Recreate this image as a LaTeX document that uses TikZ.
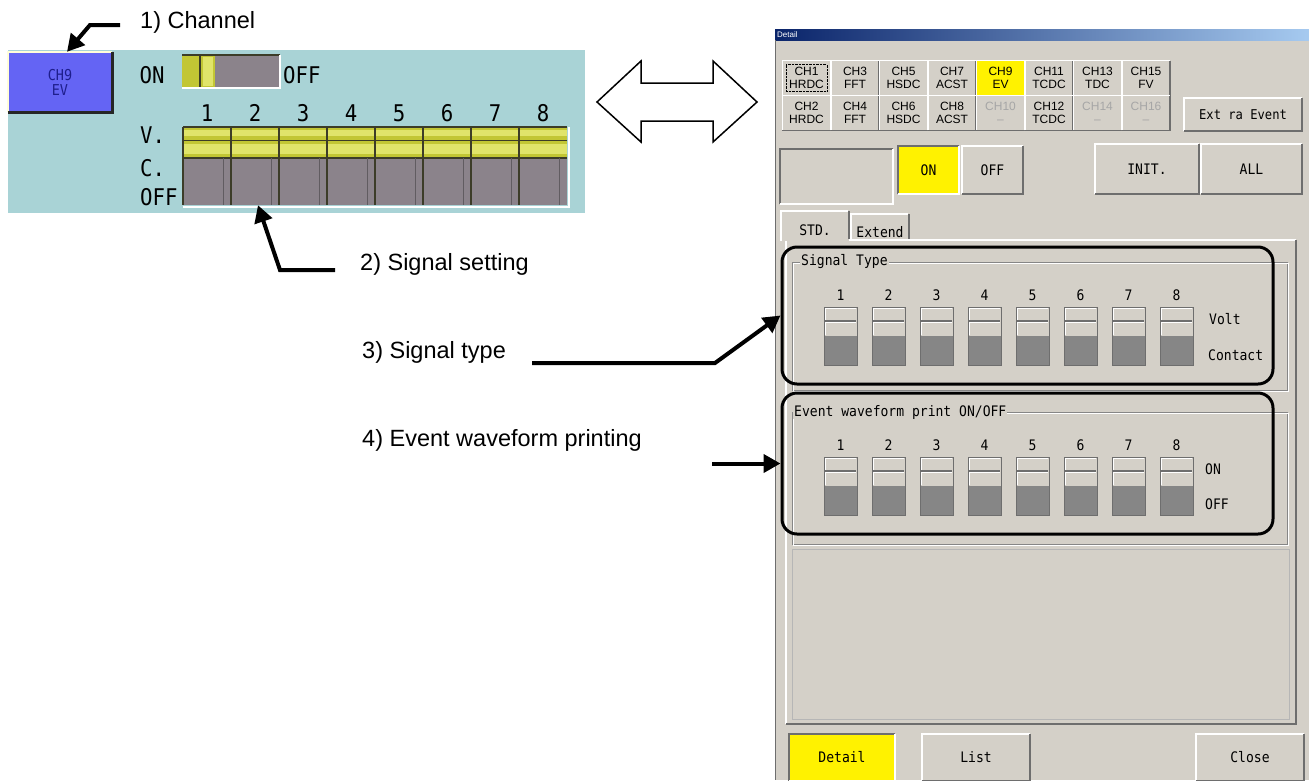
\documentclass[tikz,border=0pt]{standalone}
\usepackage{fontspec}
\setmainfont{Liberation Sans}
\newfontfamily\monoui{DejaVu Sans Mono}[FakeStretch=0.9]
\usetikzlibrary{arrows.meta,positioning,calc}

\definecolor{lblue}{HTML}{A9D3D6}
\definecolor{lgray}{HTML}{8B838B}
\definecolor{ldark}{HTML}{3C3C28}
\definecolor{lyel}{HTML}{C2C634}
\definecolor{lyelhi}{HTML}{E0E46A}
\definecolor{chblue}{HTML}{6464F4}
\definecolor{chtext}{HTML}{1E1E8C}
\definecolor{winbg}{HTML}{D4D0C8}
\definecolor{swdark}{HTML}{868686}
\definecolor{btndark}{HTML}{6E6E6E}
\definecolor{navy}{HTML}{0A246A}
\definecolor{skyb}{HTML}{A6CAF0}

% 3d edges of the dialog buttons
\newcommand{\raisedbtn}[1]{%
	\draw[white,line width=1.5pt] (#1.south west) -- (#1.north west) -- (#1.north east);
	\draw[btndark,line width=1.5pt] (#1.north east) -- (#1.south east) -- (#1.south west);}
\newcommand{\sunkbtn}[1]{%
	\draw[btndark,line width=1.5pt] (#1.south west) -- (#1.north west) -- (#1.north east);
	\draw[white,line width=1.5pt] (#1.north east) -- (#1.south east) -- (#1.south west);}

\begin{document}
\begin{tikzpicture}[x=1pt,y=-1pt,
	lbl/.style={font=\fontsize{23.5}{26}\selectfont,anchor=west,inner sep=0pt},
	callout/.style={line width=4pt,-{Triangle[length=17pt,width=18pt]}},
	ltxt/.style={font=\monoui\fontsize{23}{24}\selectfont,inner sep=0pt},
	rtxt/.style={font=\monoui\fontsize{14.5}{16}\selectfont,inner sep=0pt},
	chbtn/.style={rectangle,fill=#1,minimum width=48pt,minimum height=34.5pt,inner sep=0pt,align=center,font=\fontsize{12}{12.5}\selectfont},
	chbtn/.default=winbg,
	btn/.style={rectangle,fill=#1,inner sep=0pt,font=\monoui\fontsize{14.5}{16}\selectfont},
	btn/.default=winbg,
	hilite/.style={draw=black,line width=3pt,rounded corners=15pt,minimum width=491pt,inner sep=0pt}]
	\useasboundingbox (0,0) rectangle (1309,780);

	% left: channel panel
	\fill[lblue] (8,50) rectangle (585,213);
	\node[rectangle,fill=chblue,minimum width=104pt,minimum height=60pt,inner sep=0pt,
		align=center,text=chtext,font=\monoui\fontsize{15}{15}\selectfont] (ch9) at (60,82) {CH9\\EV};
	\draw[white!85!yellow,line width=2pt] (ch9.south west) -- (ch9.north west) -- (ch9.north east);
	\draw[black!85,line width=3pt] (ch9.north east) -- (ch9.south east) -- (ch9.south west);
	\node[ltxt] (lon) at (152,75) {ON};
	\fill[lgray] (182,55) rectangle (280,88);
	\fill[lyel] (182,55) rectangle (215,88);
	\fill[lyelhi] (203,57) rectangle (213,86);
	\draw[ldark,line width=1.5pt] (200,55) -- (200,88);
	\draw[ldark,line width=1.5pt] (182,55) -- (280,55);
	\draw[white,line width=1.5pt] (182,88) -- (280,88) -- (280,55);
	\node[ltxt,anchor=west] (loff) at (283,75) {OFF};
	\node[ltxt,anchor=west] (lv) at (140,135) {V.};
	\node[ltxt,anchor=west] (lc) at (140,168) {C.};
	\node[ltxt,anchor=west] (loffrow) at (140,197) {OFF};
	\foreach \i in {1,...,8} {
		\pgfmathsetmacro{\xa}{183+48*(\i-1)}
		\fill[lgray] (\xa,127) rectangle ++(48,78);
		\fill[lyel] (\xa,127) rectangle ++(48,31);
		\fill[lyelhi] (\xa,130) rectangle ++(48,6);
		\fill[lyelhi] (\xa,144) rectangle ++(48,10);
		\draw[ldark,line width=1.5pt] (\xa,127) -- ++(48,0) (\xa,140.5) -- ++(48,0) (\xa,158) -- ++(48,0);
		\draw[ldark,line width=1.5pt] (\xa,127) -- ++(0,78);
		\draw[lgray!70!black] (\xa+40,158) -- ++(0,47);
		\node[ltxt] (lnum\i) at (\xa+24,113) {\i};
		\node[inner sep=0pt,minimum width=48pt,minimum height=78pt] (lsw\i) at (\xa+24,166) {};
	}
	\draw[white,line width=2pt] (183,207) -- (569,207) -- (569,127);

	% double arrow between the two views
	\draw[fill=white,line width=1.5pt,line join=miter] (597,102) -- (641,61) -- (641,83) -- (713,83) -- (713,61)
		-- (757,102) -- (713,142) -- (713,121) -- (641,121) -- (641,142) -- cycle;

	% right: detail dialog
	\fill[winbg] (775,40) rectangle (1309,780);
	\shade[left color=navy,right color=skyb] (775,29) rectangle (1309,40);
	\node[anchor=west,inner sep=0pt,text=white,font=\fontsize{8}{8}\selectfont] (title) at (777,34.5) {Detail};
	\draw[btndark] (775.5,40) -- (775.5,780);

	\foreach \ta/\tb/\fc [count=\i from 0] in {CH1/HRDC/winbg,CH3/FFT/winbg,CH5/HSDC/winbg,CH7/ACST/winbg,
			CH9/EV/yellow,CH11/TCDC/winbg,CH13/TDC/winbg,CH15/FV/winbg} {
		\node[chbtn=\fc] (b\ta) at (806.5+48.5*\i,78) {\ta\\\tb};
		\raisedbtn{b\ta}
	}
	\foreach \ta/\tb/\tc [count=\i from 0] in {CH2/HRDC/black,CH4/FFT/black,CH6/HSDC/black,CH8/ACST/black,
			CH10/--/black!35,CH12/TCDC/black,CH14/--/black!35,CH16/--/black!35} {
		\node[chbtn,text=\tc] (b\ta) at (806.5+48.5*\i,113) {\ta\\\tb};
		\raisedbtn{b\ta}
	}
	\draw[densely dotted] ([xshift=4pt,yshift=-4pt]bCH1.north west) rectangle ([xshift=-4pt,yshift=4pt]bCH1.south east);
	\node[btn,minimum width=118pt,minimum height=33pt,font=\monoui\fontsize{13.5}{15}\selectfont] (extra) at (1243,114.5) {Ext ra Event};
	\raisedbtn{extra}

	\node[btn,minimum width=113pt,minimum height=55pt] (blank) at (836.5,176.5) {};
	\sunkbtn{blank}
	\node[btn=yellow,minimum width=61pt,minimum height=48pt] (on) at (928.5,170) {ON};
	\sunkbtn{on}
	\node[btn,minimum width=61pt,minimum height=48pt] (off) at (992.5,170) {OFF};
	\raisedbtn{off}
	\node[btn,minimum width=104pt,minimum height=50pt] (init) at (1147,169) {INIT.};
	\raisedbtn{init}
	\node[btn,minimum width=101pt,minimum height=50pt] (all) at (1251.5,169) {ALL};
	\raisedbtn{all}

	% tabs and tab page
	\draw[white,line width=1.5pt] (786,724) -- (786,240) -- (1296,240);
	\draw[btndark,line width=1.5pt] (1296,240) -- (1296,724) -- (786,724);
	\fill[winbg] (781,211) rectangle (849,241);
	\draw[white,line width=1.5pt] (781,241) -- (781,211) -- (848,211);
	\draw[btndark,line width=1.5pt] (849,211) -- (849,239);
	\draw[white,line width=1.5pt] (851,239) -- (851,214) -- (908,214);
	\draw[btndark,line width=1.5pt] (909,214) -- (909,239);
	\node[rtxt] (std) at (815,230) {STD.};
	\node[rtxt] (extend) at (880,232) {Extend};

	% group boxes
	\foreach \ya/\yb in {262/390,412/544} {
		\draw[swdark] (792,\ya) rectangle (1287,\yb);
		\draw[white] (793,\ya+1) rectangle (1288,\yb+1);
	}
	\draw[swdark!60] (792,549) rectangle (1289,719);
	\node[rtxt,anchor=west,fill=winbg,inner xsep=1pt] (sigtitle) at (800,262) {Signal Type};
	\node[rtxt,anchor=west,fill=winbg,inner xsep=1pt] (evtitle) at (793,412) {Event waveform print ON/OFF};

	\foreach \yy/\gp in {307/st,457/ev} {
		\foreach \i in {1,...,8} {
			\pgfmathsetmacro{\xa}{824+48*(\i-1)}
			\fill[swdark] (\xa,\yy+29) rectangle ++(33,29);
			\draw[btndark] (\xa,\yy) rectangle ++(33,58);
			\draw[white] (\xa+1,\yy+1) -- ++(31,0) (\xa+1,\yy+1) -- ++(0,27);
			\draw[btndark,line width=1.2pt] (\xa+1,\yy+14) -- ++(31,0);
			\draw[white] (\xa+1,\yy+15.5) -- ++(31,0);
			\node[rtxt] (\gp num\i) at (\xa+16.5,\yy-12) {\i};
		}
	}
	\node[rtxt,anchor=west] (volt) at (1209,319) {Volt};
	\node[rtxt,anchor=west] (contact) at (1208,355) {Contact};
	\node[rtxt,anchor=west] (evon) at (1205,469) {ON};
	\node[rtxt,anchor=west] (evoff) at (1205,504) {OFF};

	% bottom buttons
	\node[btn=yellow,minimum width=106pt,minimum height=47pt] (detail) at (842,757.5) {Detail};
	\sunkbtn{detail}
	\node[btn,minimum width=108pt,minimum height=47pt] (list) at (976,757.5) {List};
	\raisedbtn{list}
	\node[btn,minimum width=108pt,minimum height=47pt] (close) at (1250,757.5) {Close};
	\raisedbtn{close}

	% highlight frames
	\node[hilite,minimum height=137pt] (sigbox) at (1027.5,315.5) {};
	\node[hilite,minimum height=141pt] (evbox) at (1027.5,463.5) {};

	% call-outs
	\node[lbl] (lab1) at (140,22) {1) Channel};
	\node[lbl] (lab2) at (360,264) {2) Signal setting};
	\node[lbl] (lab3) at (362,352) {3) Signal type};
	\node[lbl] (lab4) at (362,440) {4) Event waveform printing};
	\coordinate (start1) at (120,25);
	\coordinate (bend1) at (90,25);
	\coordinate (start2) at (335,270);
	\coordinate (bend2) at (280,270);
	\coordinate (start3) at (532,363);
	\coordinate (bend3) at (715,363);
	\coordinate (start4) at (712,463.5);
	\draw[callout] (start1) -- (bend1) -- ([xshift=7pt]ch9.north);
	\draw[callout] (start2) -- (bend2) -- ([xshift=3pt]lsw2.south);
	\draw[callout] (start3) -- (bend3) -- (sigbox.west);
	\draw[callout] (start4) -- (evbox.west);
\end{tikzpicture}
\end{document}
